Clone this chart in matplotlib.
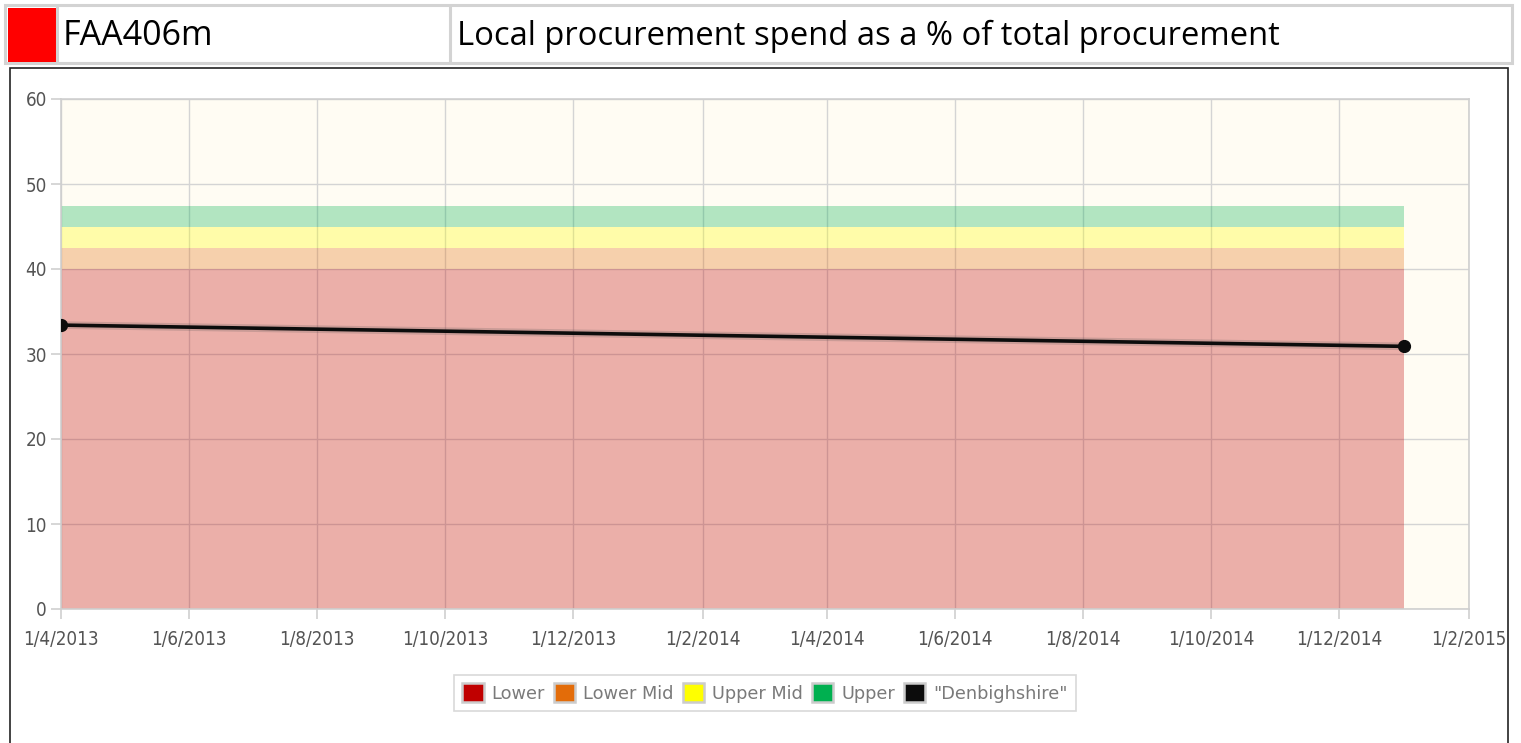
import matplotlib
matplotlib.use("Agg")
import matplotlib.pyplot as plt
import matplotlib.dates as mdates
from matplotlib.patches import Rectangle, Patch
from matplotlib.lines import Line2D
from matplotlib.ticker import FuncFormatter, MultipleLocator
import numpy as np
import datetime as dt

# ---- data ----
band_dates = [dt.date(2013, 4, 1), dt.date(2015, 1, 1)]
band_names = ["Lower", "Lower Mid", "Upper Mid", "Upper"]
band_tops = [40.0, 42.5, 45.0, 47.4]
band_colors = ["#C00000", "#E36C09", "#FFFF00", "#00B050"]
series_name = '"Denbighshire"'
series_dates = [dt.date(2013, 4, 1), dt.date(2015, 1, 1)]
series_values = [33.4, 30.9]
header_code = "FAA406m"
header_title = "Local procurement spend as a % of total procurement"

W, H = 1521, 743
fig = plt.figure(figsize=(W / 100, H / 100), dpi=100)
fig.patch.set_facecolor("white")

def fx(x):
    return x / W

def fy(y):
    return 1 - y / H

def rect(x0, y0, x1, y1, **kw):
    r = Rectangle((fx(x0), fy(y1)), fx(x1) - fx(x0), fy(y0) - fy(y1),
                  transform=fig.transFigure, **kw)
    fig.add_artist(r)

# ---- header ----
rect(5, 5, 1512, 63, facecolor="white", edgecolor="#D3D3D3", linewidth=2.2, zorder=-2)
rect(8, 8, 56, 62, facecolor="#FF0000", edgecolor="none", zorder=-1)
fig.add_artist(Line2D([fx(57), fx(57)], [fy(6), fy(62)], color="#D3D3D3", lw=2.2,
                      transform=fig.transFigure, zorder=-1))
fig.add_artist(Line2D([fx(450), fx(450)], [fy(6), fy(62)], color="#D3D3D3", lw=2.2,
                      transform=fig.transFigure, zorder=-1))
fig.text(fx(63), fy(36), header_code, fontsize=24.5, family="Open Sans",
         color="black", va="center", ha="left")
fig.text(fx(457), fy(36), header_title, fontsize=23.6, family="Open Sans",
         color="black", va="center", ha="left")

# ---- chart box ----
rect(10, 68, 1508, 760, facecolor="white", edgecolor="#222222", linewidth=1.2, zorder=-2)

# ---- axes ----
ax = fig.add_axes([fx(61), fy(609), fx(1469) - fx(61), fy(99) - fy(609)])
ax.set_zorder(1)
ax.set_facecolor("#FFFCF3")
ax.set_axisbelow(True)

bd = mdates.date2num(band_dates)
lower = 0.0
handles = []
for name, top, col in zip(band_names, band_tops, band_colors):
    ax.fill_between(bd, [lower, lower], [top, top], facecolor=col, alpha=0.3,
                    edgecolor="none", zorder=2)
    handles.append(Patch(facecolor=col, edgecolor="#CCCCCC", linewidth=1.8, label=name))
    lower = top

sd = mdates.date2num(series_dates)
ax.plot(sd, series_values, color="#555555", lw=5.5, alpha=0.22, zorder=3,
        solid_capstyle="round")
ax.plot(sd, series_values, color="#0C0C0C", lw=2.6, marker="o", markersize=8.5,
        zorder=4)
handles.append(Patch(facecolor="#0C0C0C", edgecolor="#CCCCCC", linewidth=1.8,
                     label=series_name))

ax.set_xlim(mdates.date2num(dt.date(2013, 4, 1)), mdates.date2num(dt.date(2015, 2, 1)))
ax.set_ylim(0, 60)
ax.xaxis.set_major_locator(mdates.MonthLocator(bymonth=[2, 4, 6, 8, 10, 12], bymonthday=1))
ax.xaxis.set_major_formatter(FuncFormatter(
    lambda v, p: (lambda d: f"{d.day}/{d.month}/{d.year}")(mdates.num2date(v))))
ax.yaxis.set_major_locator(MultipleLocator(10))

ax.grid(True, color="#D4D4D4", lw=1.0, zorder=0)
for s in ax.spines.values():
    s.set_color("#CFCFCF")
    s.set_linewidth(1.2)

tick_font = ["DejaVu Sans"]
ax.tick_params(axis="both", colors="#CFCFCF", length=7, width=1.2, labelcolor="#545454",
               labelsize=13.5)
ax.tick_params(axis="x", pad=8)
ax.tick_params(axis="y", pad=3)
for lab in ax.get_xticklabels() + ax.get_yticklabels():
    lab.set_family(tick_font)
    lab.set_stretch("condensed")

leg = fig.legend(handles=handles, loc="center", bbox_to_anchor=(fx(765), fy(693)),
                 ncol=5, frameon=True, fancybox=False,
                 handlelength=1.2, handleheight=1.2, handletextpad=0.45,
                 columnspacing=0.5, borderpad=0.45,
                 prop={"family": ["DejaVu Sans"], "size": 12.8})
leg.get_frame().set_edgecolor("#D0D0D0")
leg.get_frame().set_linewidth(1.2)
for t in leg.get_texts():
    t.set_color("#7A7A7A")

fig.savefig("out.png", dpi=100)
